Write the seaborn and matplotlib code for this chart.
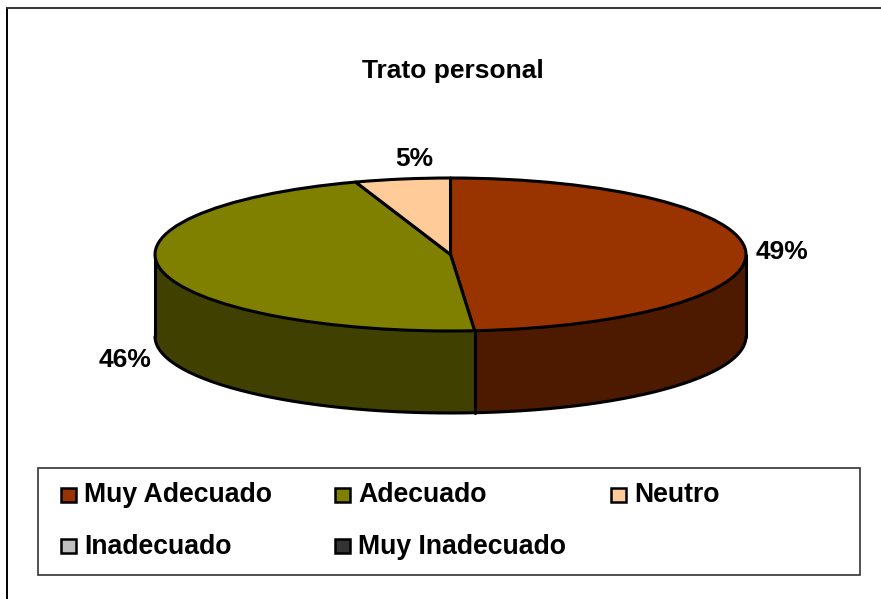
import numpy as np
import matplotlib.pyplot as plt
import seaborn as sns
from matplotlib.patches import Rectangle

titulo = "Trato personal"
categorias = ["Muy Adecuado", "Adecuado", "Neutro", "Inadecuado", "Muy Inadecuado"]
valores = [48.7, 46.1, 5.2, 0, 0]
colores = ["#993300", "#808000", "#FFCC99", "#C0C0C0", "#333333"]
oscuros = ["#4D1A00", "#404000", "#806650", "#606060", "#1A1A1A"]

W, H = 881, 599
cx, cy, rx, ry = 450.5, 254.5, 295.5, 76.5
fondo = 82

sns.set_theme(style="white")
plt.rcParams["font.family"] = ["Liberation Sans", "DejaVu Sans"]

fig = plt.figure(figsize=(W / 100, H / 100), dpi=100, facecolor="white")

# axes for the pie: [-1,1] in data is the ellipse of the top face
ax = fig.add_axes([(cx - rx) / W, 1 - (cy + ry) / H, 2 * rx / W, 2 * ry / H])
ax.patch.set_alpha(0)
vis = [v for v in valores if v > 0]
pal_top = sns.color_palette(colores[:len(vis)])
pal_low = sns.color_palette(oscuros[:len(vis)])
prof = fondo / ry

# side wall: the pie stacked downwards
for d in np.arange(fondo, 0, -0.5):
    ax.pie(vis, colors=pal_low, startangle=90, counterclock=False, center=(0, -d / ry),
           normalize=True, frame=True, wedgeprops=dict(linewidth=0, zorder=1), labels=None)

# outline of wall
t = np.linspace(np.pi / 2, 3 * np.pi / 2, 200)
ax.plot(np.sin(t), np.cos(t) - prof, color="black", lw=2.2, zorder=2, clip_on=False)
for x0 in [-1, 1]:
    ax.plot([x0, x0], [0, -prof], color="black", lw=2.2, zorder=2, clip_on=False)
ang = np.cumsum(vis) / sum(vis) * 2 * np.pi
for a in ang:
    if np.cos(a) < 0:
        ax.plot([np.sin(a)] * 2, [np.cos(a), np.cos(a) - prof], color="black", lw=2.2, zorder=2, clip_on=False)

# top face
ax.pie(vis, colors=pal_top, startangle=90, counterclock=False, center=(0, 0), normalize=True, frame=True,
       wedgeprops=dict(linewidth=2.2, edgecolor="black", zorder=3, joinstyle="round"))
ax.set_aspect("auto")
ax.set_xlim(-1, 1)
ax.set_ylim(-1, 1)
ax.set_xticks([])
ax.set_yticks([])
ax.axis("off")
for p in ax.patches:
    p.set_clip_on(False)

# overlay in pixel coordinates for text, legend and frame
ov = fig.add_axes([0, 0, 1, 1], zorder=5)
ov.patch.set_alpha(0)
ov.set_xlim(0, W)
ov.set_ylim(H, 0)
ov.axis("off")

ov.plot([7, 7], [8, H], color="black", lw=1.4)
ov.plot([7, W], [8, 8], color="#333333", lw=1.4)

ov.text(453, 71, titulo, ha="center", va="center", fontsize=19, fontweight="bold", color="black")

pos_pct = [(782, 252), (125, 360), (414, 159)]
for (x, y), v in zip(pos_pct, vis):
    ov.text(x, y, f"{v:.0f}%", ha="center", va="center", fontsize=19, fontweight="bold", color="black")

# legend
ov.add_patch(Rectangle((37.5, 467.5), 822, 107, facecolor="white", edgecolor="#333333", lw=1.2))
pos_sw = [(61, 488), (335, 488), (611, 488), (61, 539), (335, 539)]
pos_tx = [84, 358, 634, 84, 358]
for cat, col, (sx, sy), tx in zip(categorias, colores, pos_sw, pos_tx):
    ov.add_patch(Rectangle((sx, sy), 15, 14, facecolor=col, edgecolor="black", lw=1.8))
    ov.text(tx, sy + 7.5, cat, ha="left", va="center", fontsize=19.2, fontweight="bold", color="black")

fig.savefig("out.png", dpi=100)
